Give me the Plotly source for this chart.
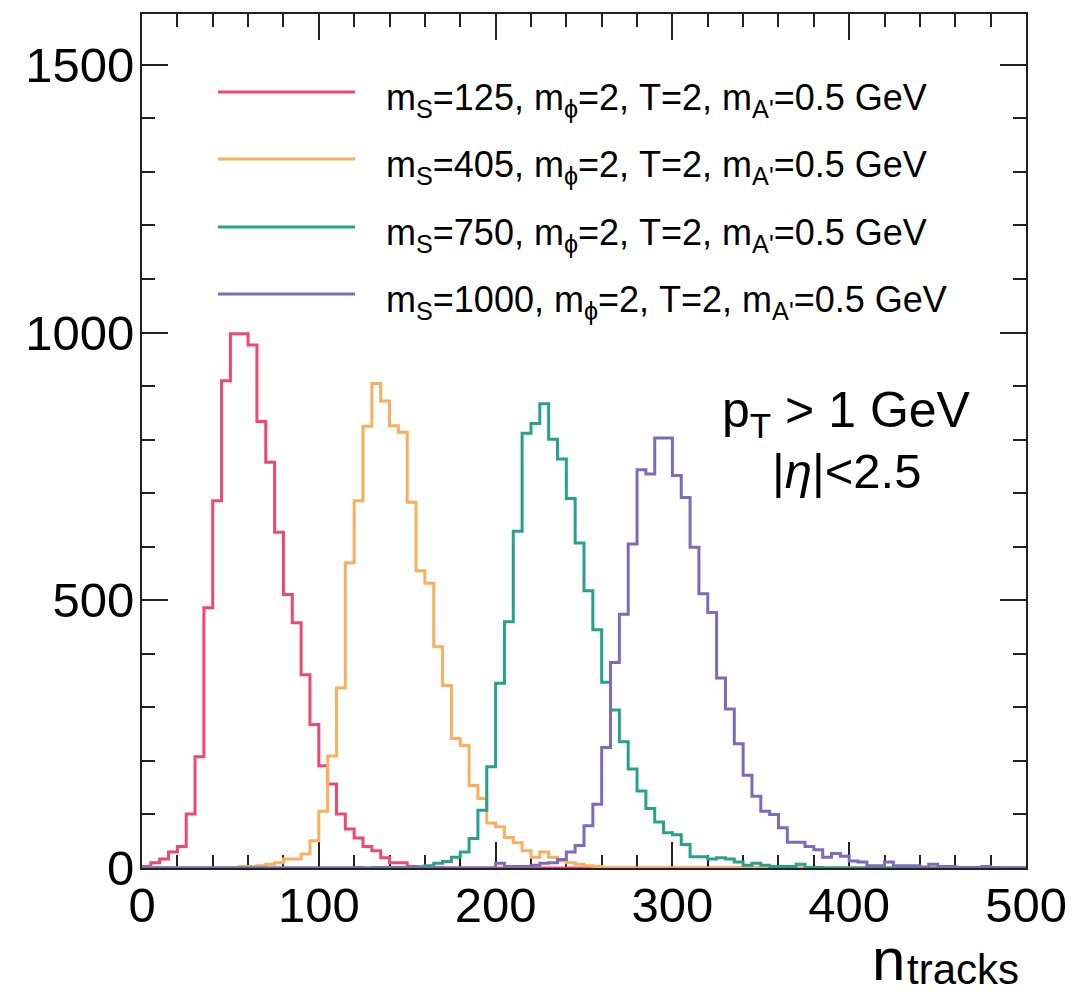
import plotly.graph_objects as go

# ---------------- data (bin width 5, 0..500) ----------------
bin_edges = [0, 5, 10, 15, 20, 25, 30, 35, 40, 45, 50, 55, 60, 65, 70, 75, 80, 85, 90, 95,
             100, 105, 110, 115, 120, 125, 130, 135, 140, 145, 150, 155, 160, 165, 170, 175, 180, 185, 190, 195,
             200, 205, 210, 215, 220, 225, 230, 235, 240, 245, 250, 255, 260, 265, 270, 275, 280, 285, 290, 295,
             300, 305, 310, 315, 320, 325, 330, 335, 340, 345, 350, 355, 360, 365, 370, 375, 380, 385, 390, 395,
             400, 405, 410, 415, 420, 425, 430, 435, 440, 445, 450, 455, 460, 465, 470, 475, 480, 485, 490, 495,
             500]

counts_ms125 = [3, 10, 17, 30, 40, 101, 208, 486, 686, 910,
                998, 998, 977, 834, 758, 627, 511, 458, 361, 268,
                191, 157, 101, 73, 56, 40, 32, 19, 10, 10,
                3, 2, 1, 1, 0, 0, 0, 0, 0, 0,
                0, 0, 0, 0, 0, 0, 0, 0, 0, 0,
                0, 0, 0, 0, 0, 0, 0, 0, 0, 0,
                0, 0, 0, 0, 0, 0, 0, 0, 0, 0,
                0, 0, 0, 0, 0, 0, 0, 0, 0, 0,
                0, 0, 0, 0, 0, 0, 0, 0, 0, 0,
                0, 0, 0, 0, 0, 0, 0, 0, 0, 0]

counts_ms405 = [0, 0, 0, 0, 0, 0, 0, 0, 0, 0,
                0, 3, 3, 4, 7, 10, 17, 17, 26, 51,
                106, 209, 336, 570, 686, 825, 905, 872, 826, 814,
                683, 555, 532, 413, 341, 242, 229, 154, 130, 84,
                77, 57, 47, 32, 20, 30, 20, 13, 10, 7,
                4, 3, 1, 0, 0, 0, 0, 0, 0, 0,
                0, 0, 0, 0, 0, 0, 0, 0, 0, 0,
                0, 0, 0, 0, 0, 0, 0, 0, 0, 0,
                0, 0, 0, 0, 0, 0, 0, 0, 0, 0,
                0, 0, 0, 0, 0, 0, 0, 0, 0, 0]

counts_ms750 = [0, 0, 0, 0, 0, 0, 0, 0, 0, 0,
                0, 0, 0, 0, 0, 0, 0, 0, 0, 0,
                0, 0, 0, 0, 1, 0, 1, 1, 1, 1,
                1, 2, 4, 9, 12, 20, 30, 55, 108, 189,
                345, 460, 629, 812, 830, 867, 801, 764, 690, 607,
                518, 445, 347, 295, 236, 185, 144, 111, 86, 66,
                62, 44, 21, 21, 17, 19, 17, 11, 5, 9,
                5, 3, 3, 3, 7, 1, 1, 0, 0, 0,
                0, 0, 0, 0, 0, 0, 0, 0, 0, 0,
                0, 0, 0, 0, 0, 0, 0, 0, 0, 0]

counts_ms1000 = [0, 0, 0, 0, 0, 0, 0, 0, 0, 0,
                 0, 0, 0, 0, 0, 0, 0, 0, 0, 0,
                 0, 0, 0, 0, 0, 0, 0, 0, 0, 0,
                 0, 0, 0, 0, 0, 0, 0, 0, 0, 0,
                 9, 3, 3, 3, 5, 9, 10, 16, 30, 42,
                 79, 119, 225, 384, 474, 605, 744, 736, 803, 803,
                 733, 692, 599, 512, 477, 355, 297, 232, 173, 134,
                 106, 100, 75, 48, 48, 40, 34, 20, 27, 22,
                 13, 11, 4, 4, 11, 4, 4, 4, 2, 7,
                 3, 3, 1, 1, 1, 3, 1, 0, 0, 0]

series_names = [
    "m<sub>S</sub>=125, m<sub>ϕ</sub>=2, T=2, m<sub>A'</sub>=0.5 GeV",
    "m<sub>S</sub>=405, m<sub>ϕ</sub>=2, T=2, m<sub>A'</sub>=0.5 GeV",
    "m<sub>S</sub>=750, m<sub>ϕ</sub>=2, T=2, m<sub>A'</sub>=0.5 GeV",
    "m<sub>S</sub>=1000, m<sub>ϕ</sub>=2, T=2, m<sub>A'</sub>=0.5 GeV",
]
series_counts = [counts_ms125, counts_ms405, counts_ms750, counts_ms1000]
series_colors = ["#EF476F", "#F9B05C", "#27A08E", "#7D6AB8"]

x_ticks = [0, 100, 200, 300, 400, 500]
y_ticks = [0, 500, 1000, 1500]

# ---------------- layout geometry ----------------
W, H = 1088, 993
ML, MR, MT, MB = 142, 62, 14, 125
PW, PH = W - ML - MR, H - MT - MB
FONT = "Liberation Sans, Arial, Helvetica, sans-serif"


def pxx(xp):
    return (xp - ML) / PW


def pxy(yp):
    return (H - MB - yp) / PH


fig = go.Figure()
for name, cnt, col in zip(series_names, series_counts, series_colors):
    fig.add_trace(go.Scatter(
        x=bin_edges, y=cnt + [cnt[-1]], mode="lines", name=name,
        line=dict(shape="hv", color=col, width=3), showlegend=False,
        hoverinfo="skip"))

axis_common = dict(
    showline=True, linecolor="#222", linewidth=2, mirror="allticks",
    ticks="inside", ticklen=26, tickwidth=1.6, tickcolor="#222",
    showgrid=False, zeroline=False, layer="below traces",
    tickfont=dict(family=FONT, size=49, color="black"),
)

fig.update_xaxes(range=[0, 500], tickvals=x_ticks, ticklabelstandoff=-7,
                 minor=dict(ticks="inside", ticklen=13, dtick=20, tick0=0,
                            tickwidth=1.6, tickcolor="#222", showgrid=False),
                 **axis_common)
fig.update_yaxes(range=[0, 1595], tickvals=y_ticks, ticklabelstandoff=-4,
                 minor=dict(ticks="inside", ticklen=13, dtick=100, tick0=0,
                            tickwidth=1.6, tickcolor="#222", showgrid=False),
                 **axis_common)

# manual legend (line samples + labels)
legend_rows_y = [92, 159, 227, 294]
for yrow, name, col in zip(legend_rows_y, series_names, series_colors):
    fig.add_shape(type="line", xref="paper", yref="paper",
                  x0=pxx(218), x1=pxx(355), y0=pxy(yrow), y1=pxy(yrow),
                  line=dict(color=col, width=3))
    fig.add_annotation(xref="paper", yref="paper", x=pxx(384), y=pxy(yrow + 8),
                       xanchor="left", yanchor="middle", showarrow=False,
                       text=name, font=dict(family=FONT, size=36, color="black"))

# cut annotations
fig.add_annotation(xref="paper", yref="paper", x=pxx(846), y=pxy(414),
                   xanchor="center", yanchor="middle", showarrow=False,
                   text="p<sub>T</sub> &gt; 1 GeV",
                   font=dict(family=FONT, size=50, color="black"))
fig.add_annotation(xref="paper", yref="paper", x=pxx(846), y=pxy(471),
                   xanchor="center", yanchor="middle", showarrow=False,
                   text="|<i>η</i>|&lt;2.5",
                   font=dict(family=FONT, size=49, color="black"))

# x-axis title: main letter + subscript placed separately
fig.add_annotation(xref="paper", yref="paper", x=pxx(907), y=pxy(959),
                   xanchor="right", yanchor="middle", showarrow=False,
                   text="n", font=dict(family=FONT, size=60, color="black"))
fig.add_annotation(xref="paper", yref="paper", x=pxx(905), y=pxy(970),
                   xanchor="left", yanchor="middle", showarrow=False,
                   text="tracks", font=dict(family=FONT, size=42, color="black"))

fig.update_layout(
    width=W, height=H,
    margin=dict(l=ML, r=MR, t=MT, b=MB, pad=0),
    paper_bgcolor="white", plot_bgcolor="white",
    showlegend=False,
)

fig.write_html("out.html", config={"displayModeBar": False},
               post_script="document.body.style.margin='0px';document.body.style.overflow='hidden';")
